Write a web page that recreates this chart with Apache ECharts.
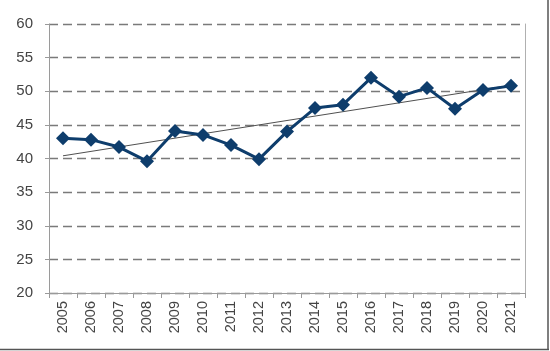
<!DOCTYPE html>
<html>
<head>
<meta charset="utf-8">
<script src="https://cdn.jsdelivr.net/npm/echarts@6/dist/echarts.min.js"></script>
<style>
html,body{margin:0;padding:0;background:#fff;}
#c{width:550px;height:351px;}
</style>
</head>
<body>
<div id="c"></div>
<script>
var years = ['2005','2006','2007','2008','2009','2010','2011','2012','2013','2014','2015','2016','2017','2018','2019','2020','2021'];
var values = [43.0, 42.8, 41.7, 39.6, 44.1, 43.5, 42.0, 39.9, 44.0, 47.5, 48.0, 52.0, 49.2, 50.5, 47.4, 50.2, 50.8];
var trendStart = 40.4;
var trendEnd = 50.9;
var yTicks = [20, 25, 30, 35, 40, 45, 50, 55, 60];

var trendData = years.map(function (y, i) {
  if (i === 0) return trendStart;
  if (i === years.length - 1) return trendEnd;
  return '-';
});

var chart = echarts.init(document.getElementById('c'), null, {renderer: 'canvas'});
chart.setOption({
  animation: false,
  backgroundColor: '#ffffff',
  grid: {left: 49, right: 25, top: 24, bottom: 58, containLabel: false},
  xAxis: {
    type: 'category',
    data: years,
    boundaryGap: true,
    axisLine: {show: true, lineStyle: {color: '#9a9a9a', width: 1}},
    axisTick: {show: true, interval: 0, length: 5, lineStyle: {color: '#9a9a9a'}},
    axisLabel: {rotate: 90, interval: 0, margin: 8, color: '#444444', fontSize: 14.5, fontFamily: 'Liberation Sans, Arial, sans-serif'},
    splitLine: {show: false}
  },
  yAxis: [{
    type: 'value',
    min: yTicks[0],
    max: yTicks[yTicks.length - 1],
    interval: 5,
    axisLine: {show: true, lineStyle: {color: '#9a9a9a', width: 1}},
    axisTick: {show: true, length: 4, lineStyle: {color: '#9a9a9a'}},
    axisLabel: {margin: 16, color: '#444444', fontSize: 15, fontFamily: 'Liberation Sans, Arial, sans-serif'},
    splitLine: {show: true, lineStyle: {color: '#7a7a7a', width: 1.3, type: [9, 5]}}
  }, {
    type: 'value',
    position: 'right',
    min: yTicks[0],
    max: yTicks[yTicks.length - 1],
    interval: 5,
    axisLine: {show: true, lineStyle: {color: '#b0b0b0', width: 1}},
    axisTick: {show: false},
    axisLabel: {show: false},
    splitLine: {show: false}
  }],
  graphic: [{
    type: 'line',
    shape: {x1: 548, y1: 0, x2: 548, y2: 350},
    style: {stroke: '#555555', lineWidth: 1.5},
    silent: true
  }, {
    type: 'line',
    shape: {x1: 0, y1: 349.5, x2: 549, y2: 349.5},
    style: {stroke: '#555555', lineWidth: 1.5},
    silent: true
  }],
  series: [{
    type: 'line',
    data: trendData,
    connectNulls: true,
    showSymbol: false,
    symbol: 'none',
    lineStyle: {color: '#505050', width: 1},
    z: 3
  }, {
    type: 'line',
    data: values,
    symbol: 'diamond',
    symbolSize: 14,
    itemStyle: {color: '#0e3d6c'},
    lineStyle: {color: '#0e3d6c', width: 3},
    z: 4
  }]
});
</script>
</body>
</html>
